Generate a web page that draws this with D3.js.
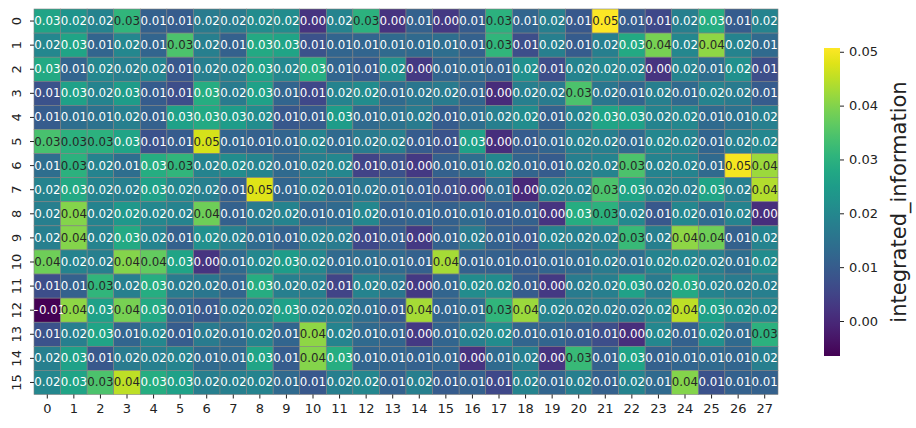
<!DOCTYPE html>
<html>
<head>
<meta charset="utf-8">
<script src="https://cdn.jsdelivr.net/npm/d3@7"></script>
<style>
  body { margin: 0; background: #fff; }
  text { font-family: "DejaVu Sans", sans-serif; }
</style>
</head>
<body>
<div id="chart"></div>
<script>

const width = 916
const height = 428

const rowLabels = d3.range(16).map(String)
const colLabels = d3.range(28).map(String)
const cbTicks = [0, 0.01, 0.02, 0.03, 0.04, 0.05]
const cbLabel = 'integrated_information'

// integrated information per row (16) x column (28)
const values = [
  [0.027, 0.023, 0.019, 0.031, 0.011, 0.010, 0.017, 0.017, 0.021, 0.021, 0.002, 0.019, 0.030, 0.002, 0.011, 0.003, 0.010, 0.030, 0.012, 0.018, 0.009, 0.0507, 0.010, 0.006, 0.018, 0.029, 0.010, 0.019],
  [0.020, 0.027, 0.012, 0.020, 0.012, 0.0345, 0.018, 0.011, 0.028, 0.027, 0.008, 0.012, 0.012, 0.013, 0.013, 0.014, 0.011, 0.031, 0.007, 0.018, 0.010, 0.018, 0.028, 0.039, 0.020, 0.041, 0.019, 0.013],
  [0.028, 0.012, 0.020, 0.018, 0.019, 0.009, 0.018, 0.018, 0.026, 0.020, 0.029, 0.012, 0.010, 0.022, 0.003, 0.012, 0.013, 0.011, 0.022, 0.007, 0.019, 0.020, 0.019, 0.002, 0.019, 0.014, 0.022, 0.007],
  [0.008, 0.026, 0.019, 0.025, 0.010, 0.007, 0.029, 0.017, 0.026, 0.012, 0.006, 0.019, 0.021, 0.013, 0.016, 0.017, 0.012, 0.0005, 0.018, 0.017, 0.0345, 0.016, 0.012, 0.018, 0.013, 0.019, 0.017, 0.010],
  [0.010, 0.014, 0.015, 0.018, 0.011, 0.026, 0.028, 0.025, 0.021, 0.009, 0.010, 0.025, 0.013, 0.015, 0.017, 0.010, 0.014, 0.018, 0.021, 0.011, 0.019, 0.027, 0.026, 0.019, 0.020, 0.013, 0.015, 0.018],
  [0.034, 0.030, 0.030, 0.027, 0.008, 0.010, 0.047, 0.012, 0.011, 0.012, 0.019, 0.013, 0.017, 0.018, 0.010, 0.008, 0.026, 0.001, 0.010, 0.012, 0.018, 0.018, 0.013, 0.020, 0.019, 0.012, 0.018, 0.020],
  [0.014, 0.030, 0.019, 0.014, 0.029, 0.031, 0.019, 0.021, 0.019, 0.013, 0.018, 0.020, 0.005, 0.008, 0.003, 0.011, 0.014, 0.020, 0.012, 0.010, 0.018, 0.019, 0.0345, 0.019, 0.019, 0.013, 0.050, 0.042],
  [0.019, 0.028, 0.019, 0.018, 0.026, 0.020, 0.018, 0.011, 0.048, 0.012, 0.018, 0.013, 0.016, 0.013, 0.010, 0.007, 0.004, 0.013, 0.000, 0.018, 0.019, 0.0345, 0.027, 0.019, 0.018, 0.027, 0.018, 0.044],
  [0.018, 0.040, 0.019, 0.024, 0.020, 0.019, 0.038, 0.011, 0.017, 0.019, 0.012, 0.013, 0.020, 0.011, 0.012, 0.011, 0.013, 0.010, 0.011, 0.002, 0.029, 0.030, 0.020, 0.009, 0.020, 0.013, 0.019, 0.001],
  [0.018, 0.040, 0.019, 0.028, 0.019, 0.011, 0.022, 0.018, 0.013, 0.011, 0.018, 0.017, 0.006, 0.010, 0.003, 0.011, 0.017, 0.011, 0.009, 0.019, 0.018, 0.018, 0.032, 0.018, 0.041, 0.038, 0.011, 0.019],
  [0.038, 0.019, 0.018, 0.040, 0.037, 0.027, 0.002, 0.013, 0.020, 0.025, 0.020, 0.013, 0.014, 0.013, 0.011, 0.043, 0.011, 0.011, 0.010, 0.012, 0.013, 0.017, 0.014, 0.019, 0.020, 0.018, 0.014, 0.021],
  [0.007, 0.011, 0.031, 0.018, 0.029, 0.017, 0.016, 0.012, 0.029, 0.018, 0.018, 0.005, 0.019, 0.016, 0.003, 0.012, 0.021, 0.021, 0.010, 0.003, 0.017, 0.018, 0.026, 0.017, 0.028, 0.019, 0.017, 0.018],
  [-0.0065, 0.041, 0.026, 0.039, 0.028, 0.012, 0.009, 0.016, 0.019, 0.026, 0.019, 0.018, 0.014, 0.010, 0.043, 0.012, 0.014, 0.031, 0.042, 0.019, 0.017, 0.017, 0.016, 0.020, 0.045, 0.026, 0.021, 0.020],
  [0.008, 0.018, 0.027, 0.012, 0.020, 0.010, 0.017, 0.013, 0.019, 0.012, 0.041, 0.019, 0.013, 0.012, 0.003, 0.012, 0.018, 0.021, 0.012, 0.012, 0.010, 0.007, 0.001, 0.020, 0.011, 0.022, 0.013, 0.030],
  [0.018, 0.026, 0.009, 0.017, 0.018, 0.019, 0.013, 0.013, 0.027, 0.010, 0.040, 0.029, 0.012, 0.012, 0.011, 0.012, 0.002, 0.013, 0.018, 0.002, 0.032, 0.011, 0.027, 0.011, 0.012, 0.013, 0.012, 0.018],
  [0.020, 0.027, 0.0345, 0.045, 0.029, 0.026, 0.018, 0.018, 0.019, 0.013, 0.009, 0.018, 0.020, 0.011, 0.018, 0.010, 0.011, 0.006, 0.019, 0.012, 0.018, 0.011, 0.019, 0.013, 0.040, 0.008, 0.011, 0.011]
]

const hm = { left: 34, right: 778, top: 9, bottom: 394.5 }
const cb = { left: 824, right: 840, top: 48, bottom: 356 }

const flat = values.flat()
const vmin = d3.min(flat)
const vmax = d3.max(flat)

const x = d3.scaleBand().domain(colLabels).range([hm.left, hm.right])
const y = d3.scaleBand().domain(rowLabels).range([hm.top, hm.bottom])
const color = d3.scaleSequential(d3.interpolateViridis).domain([vmin, vmax])
const fmt = d3.format('.2f')

// text colour the seaborn way: dark on light cells
const lum = c => {
  const rgb = d3.rgb(c)
  const lin = v => { v /= 255; return v <= 0.03928 ? v / 12.92 : Math.pow((v + 0.055) / 1.055, 2.4) }
  return 0.2126 * lin(rgb.r) + 0.7152 * lin(rgb.g) + 0.0722 * lin(rgb.b)
}

const svg = d3.select('#chart')
  .append('svg')
  .attr('width', width)
  .attr('height', height)

const cells = []
values.forEach((row, i) => row.forEach((v, j) => cells.push({ r: rowLabels[i], c: colLabels[j], v })))

svg.append('g')
  .selectAll('rect')
  .data(cells)
  .join('rect')
  .attr('x', d => x(d.c))
  .attr('y', d => y(d.r))
  .attr('width', x.bandwidth())
  .attr('height', y.bandwidth())
  .attr('fill', d => color(d.v))
  .attr('stroke', 'gray')
  .attr('stroke-width', 0.6)

svg.append('g')
  .selectAll('text')
  .data(cells)
  .join('text')
  .attr('x', d => x(d.c) + x.bandwidth() / 2)
  .attr('y', d => y(d.r) + y.bandwidth() / 2)
  .attr('text-anchor', 'middle')
  .attr('dominant-baseline', 'central')
  .attr('font-size', 11.8)
  .attr('fill', d => lum(color(d.v)) > 0.33 ? '#262626' : '#ffffff')
  .text(d => fmt(d.v))

// axes
const xAxis = svg.append('g')
  .attr('transform', `translate(0, ${hm.bottom})`)
  .call(d3.axisBottom(x).tickSize(4).tickPadding(5))
xAxis.select('.domain').remove()
xAxis.selectAll('text').attr('font-size', 13).attr('fill', '#222')
xAxis.selectAll('line').attr('stroke', '#222')

const yAxis = svg.append('g')
  .attr('transform', `translate(${hm.left}, 0)`)
  .call(d3.axisLeft(y).tickSize(4))
yAxis.select('.domain').remove()
yAxis.selectAll('line').attr('stroke', '#222')
yAxis.selectAll('text')
  .attr('font-size', 13)
  .attr('fill', '#222')
  .attr('x', null)
  .attr('dy', null)
  .attr('text-anchor', 'middle')
  .attr('dominant-baseline', 'central')
  .attr('transform', 'translate(-18, 0) rotate(-90)')

// colorbar
const cbScale = d3.scaleLinear().domain([vmin, vmax]).range([cb.bottom, cb.top])

const grad = svg.append('defs')
  .append('linearGradient')
  .attr('id', 'cbgrad')
  .attr('x1', 0).attr('y1', 1).attr('x2', 0).attr('y2', 0)

grad.selectAll('stop')
  .data(d3.range(0, 1.0001, 0.05))
  .join('stop')
  .attr('offset', d => d)
  .attr('stop-color', d => d3.interpolateViridis(d))

svg.append('rect')
  .attr('x', cb.left)
  .attr('y', cb.top)
  .attr('width', cb.right - cb.left)
  .attr('height', cb.bottom - cb.top)
  .attr('fill', 'url(#cbgrad)')

const cbAxis = svg.append('g')
  .attr('transform', `translate(${cb.right}, 0)`)
  .call(d3.axisRight(cbScale).tickValues(cbTicks).tickFormat(fmt).tickSize(4).tickPadding(5))
cbAxis.select('.domain').remove()
cbAxis.selectAll('text').attr('font-size', 13).attr('fill', '#222')
cbAxis.selectAll('line').attr('stroke', '#222')

svg.append('text')
  .attr('transform', `translate(906, ${(cb.top + cb.bottom) / 2}) rotate(-90)`)
  .attr('text-anchor', 'middle')
  .attr('font-size', 21)
  .attr('fill', '#222')
  .text(cbLabel)

</script>
</body>
</html>
